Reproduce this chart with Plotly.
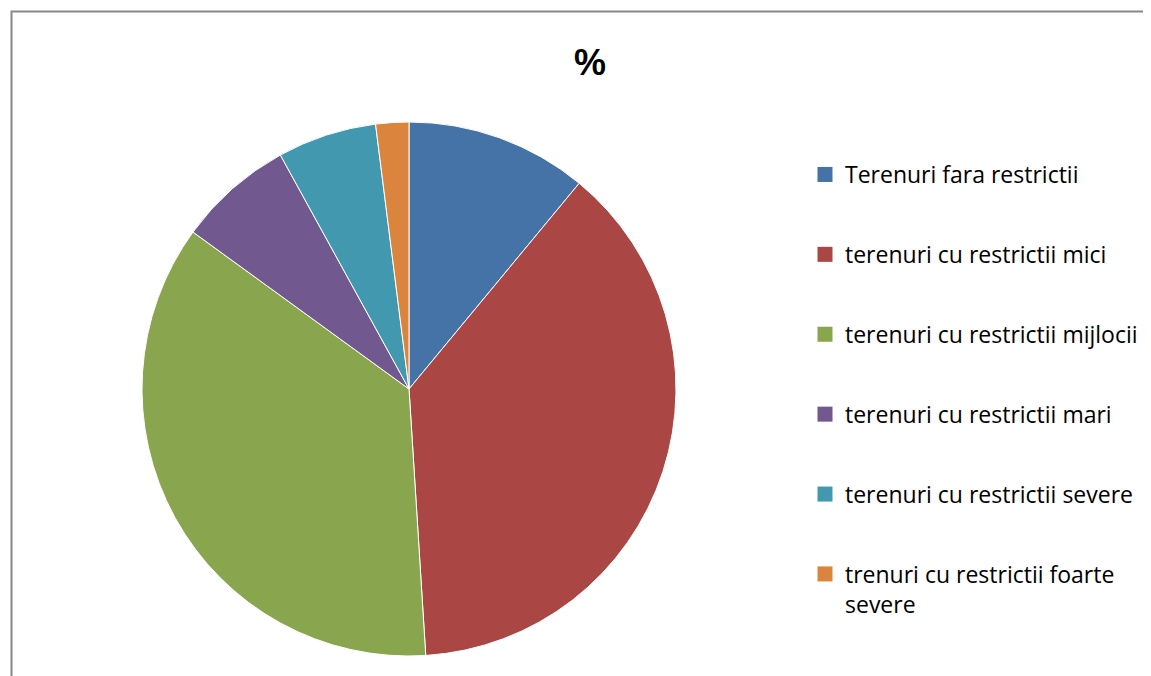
import plotly.graph_objects as go

labels = [
    "Terenuri fara restrictii",
    "terenuri cu restrictii mici",
    "terenuri cu restrictii mijlocii",
    "terenuri cu restrictii mari",
    "terenuri cu restrictii severe",
    "trenuri cu restrictii foarte<br>severe",
]
values = [11, 38, 36, 7, 6, 2]
colors = ["#4572A7", "#AA4643", "#89A54E", "#71588F", "#4198AF", "#DB843D"]

W, H = 1151, 676
OFF = 8  # the page body adds 8px before the figure
FONT = "Open Sans, Liberation Sans, Arial, sans-serif"

fig = go.Figure()

fig.add_trace(
    go.Pie(
        labels=labels,
        values=values,
        sort=False,
        direction="clockwise",
        rotation=0,
        marker=dict(colors=colors, line=dict(color="white", width=1)),
        textinfo="none",
        showlegend=False,
        domain=dict(
            x=[(142 - OFF) / W, (676 - OFF) / W],
            y=[1 - (656 - OFF) / H, 1 - (122 - OFF) / H],
        ),
    )
)

# legend entries as dummy traces so the gap between items can be set
for i, (lab, col) in enumerate(zip(labels, colors)):
    fig.add_trace(
        go.Scatter(
            x=[None],
            y=[None],
            mode="markers",
            name=lab,
            legendgroup=str(i),
            marker=dict(symbol="square", size=15, color=col),
        )
    )

fig.update_layout(
    width=W,
    height=H,
    margin=dict(l=0, r=0, t=0, b=0),
    paper_bgcolor="white",
    plot_bgcolor="white",
    font=dict(family=FONT, color="#000000"),
    title=dict(
        text="<b>%</b>",
        x=(590 - OFF) / W,
        xanchor="center",
        y=1 - (62 - OFF) / H,
        yanchor="middle",
        font=dict(size=36, family="Liberation Sans, Arial, sans-serif", color="#000000"),
    ),
    legend=dict(
        x=797 / W,
        xanchor="left",
        y=1 - 145 / H,
        yanchor="top",
        valign="top",
        tracegroupgap=47,
        traceorder="grouped",
        font=dict(size=23, family=FONT, color="#000000"),
        bgcolor="rgba(0,0,0,0)",
    ),
    xaxis=dict(visible=False),
    yaxis=dict(visible=False),
    shapes=[
        dict(
            type="rect",
            xref="paper",
            yref="paper",
            x0=(11.5 - OFF) / W,
            x1=1.2,
            y0=-0.2,
            y1=1 - (11.5 - OFF) / H,
            line=dict(color="#888888", width=2),
        )
    ],
)

fig.write_html("out.html")
